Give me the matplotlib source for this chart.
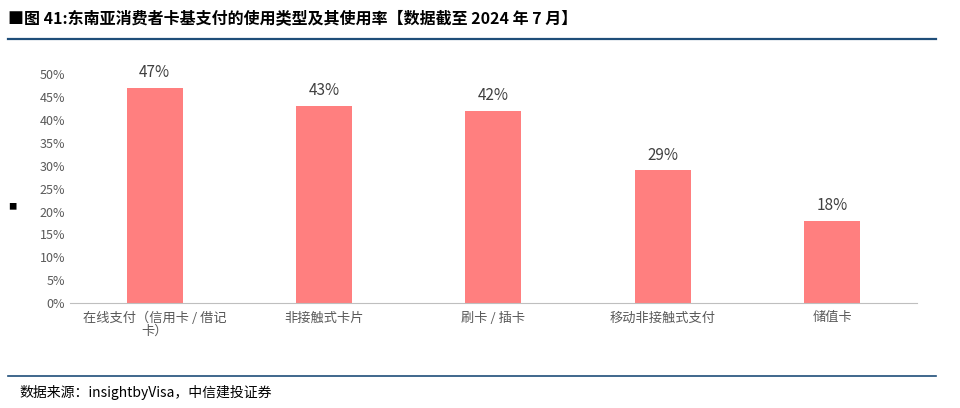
import matplotlib
matplotlib.use("Agg")
import matplotlib.pyplot as plt
from matplotlib.ticker import PercentFormatter

plt.rcParams['font.family'] = ['Noto Sans CJK SC', 'DejaVu Sans']

categories = ["在线支付（信用卡 / 借记\n卡）", "非接触式卡片", "刷卡 / 插卡", "移动非接触式支付", "储值卡"]
values = [47, 43, 42, 29, 18]
yticks = [0, 5, 10, 15, 20, 25, 30, 35, 40, 45, 50]

fig = plt.figure(figsize=(9.6, 4.08), dpi=100)
fig.text(0.008, 0.955, "■图 41:东南亚消费者卡基支付的使用类型及其使用率【数据截至 2024 年 7 月】",
         fontsize=11.5, fontweight='bold', ha='left', va='center', color='black')
fig.add_artist(plt.Line2D([0.008, 0.975], [0.905, 0.905], color='#1F4E79', lw=1.6))
fig.add_artist(plt.Line2D([0.008, 0.975], [0.078, 0.078], color='#1F4E79', lw=1.2))
fig.text(0.02, 0.038, "数据来源：insightbyVisa，中信建投证券", fontsize=10, style='italic',
         ha='left', va='center', color='black')
fig.text(0.008, 0.493, "■", fontsize=6, ha='left', va='center')

ax = fig.add_axes([0.073, 0.257, 0.882, 0.561])
x = range(len(categories))
bars = ax.bar(x, values, width=0.33, color='#FF7F7F')
for xi, v in zip(x, values):
    ax.text(xi, v + 1.5, f"{v}%", ha='center', va='bottom', fontsize=11, color='#404040')
ax.set_xlim(-0.5, len(categories) - 0.5)
ax.set_ylim(0, 50)
ax.set_yticks(yticks)
ax.yaxis.set_major_formatter(PercentFormatter(decimals=0))
ax.set_xticks(list(x))
ax.set_xticklabels(categories, fontsize=9.5, color='#595959', linespacing=1.0)
ax.tick_params(axis='y', labelsize=9, colors='#595959', length=0)
ax.tick_params(axis='x', length=0, pad=6)
for s in ['top', 'right', 'left']:
    ax.spines[s].set_visible(False)
ax.spines['bottom'].set_color('#BFBFBF')
fig.savefig("out.png", dpi=100)
